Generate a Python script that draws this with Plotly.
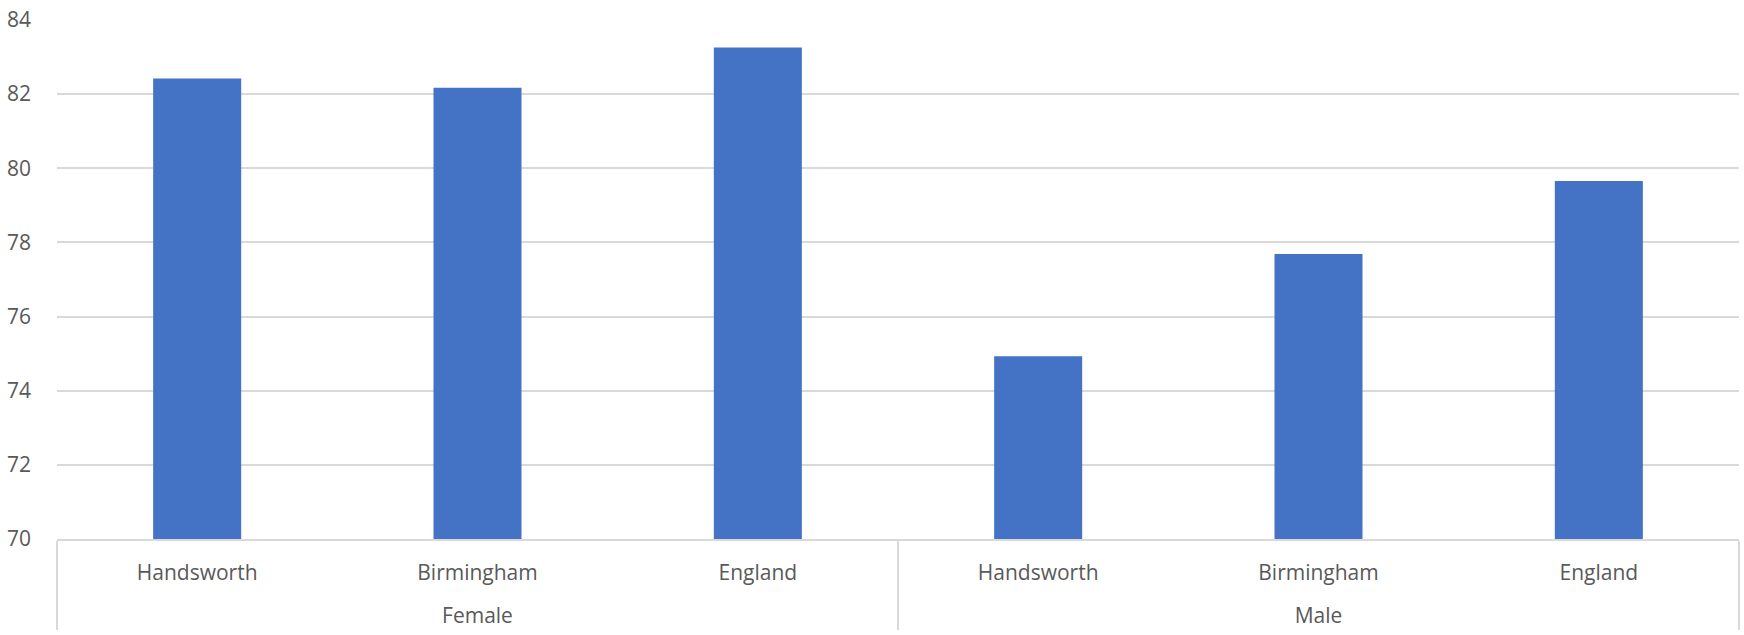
import plotly.graph_objects as go

groups = ["Female", "Female", "Female", "Male", "Male", "Male"]
areas = ["Handsworth", "Birmingham", "England", "Handsworth", "Birmingham", "England"]
values = [82.42, 82.17, 83.26, 74.93, 77.69, 79.66]
y_ticks = [70, 72, 74, 76, 78, 80, 82, 84]

# outer group labels sit a line lower than plotly's default spacing
group_labels = ["<br>" + g for g in groups]

fig = go.Figure(
    go.Bar(
        x=[group_labels, areas],
        y=values,
        marker=dict(color="#4472c4", line=dict(width=0)),
        hovertemplate="%{x}: %{y}<extra></extra>",
    )
)

fig.update_layout(
    width=1744,
    height=635,
    margin=dict(l=57, r=5, t=13, b=96),
    paper_bgcolor="white",
    plot_bgcolor="white",
    bargap=0.686,
    showlegend=False,
    font=dict(family="Open Sans", size=21, color="#595959"),
)

fig.update_xaxes(
    type="multicategory",
    showline=True,
    linecolor="#d9d9d9",
    linewidth=1.5,
    showgrid=False,
    showdividers=True,
    dividercolor="#d9d9d9",
    dividerwidth=1.5,
    ticks="",
    ticklabelstandoff=14,
    tickfont=dict(family="Open Sans", size=21, color="#595959"),
)

fig.update_yaxes(
    range=[70, 84],
    tickvals=y_ticks,
    ticktext=[str(v) for v in y_ticks],
    showgrid=True,
    gridcolor="#d9d9d9",
    gridwidth=1.5,
    zeroline=False,
    showline=False,
    ticks="",
    ticklabelstandoff=25,
    ticklabeloverflow="allow",
    tickfont=dict(family="Open Sans", size=21, color="#595959"),
)

fig.write_html(
    "out.html",
    config={"displayModeBar": False},
    post_script="document.body.style.margin='0';document.body.style.overflow='hidden';",
)
